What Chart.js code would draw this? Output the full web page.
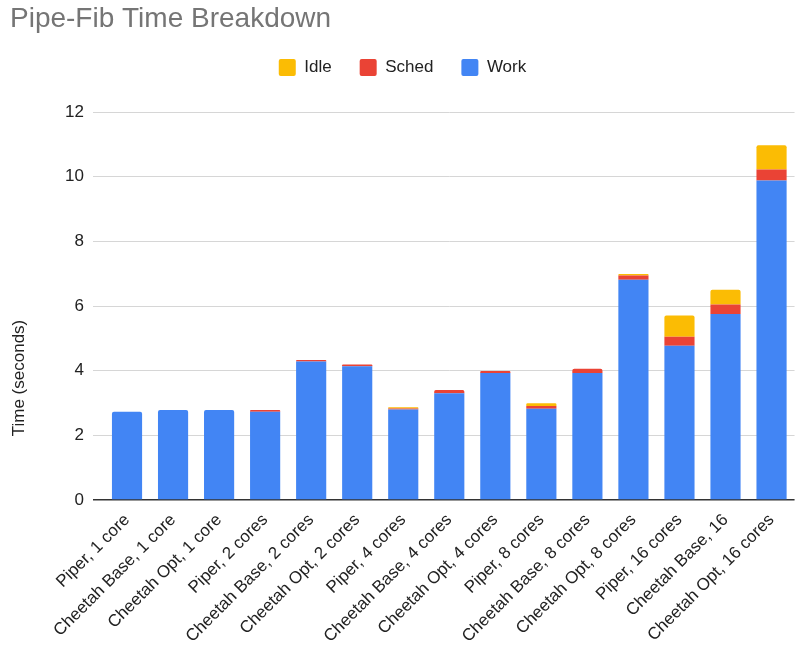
<!DOCTYPE html>
<html>
<head>
<meta charset="utf-8">
<title>Pipe-Fib Time Breakdown</title>
<script src="https://cdn.jsdelivr.net/npm/chart.js@4.4.1/dist/chart.umd.min.js"></script>
<style>
  html, body { margin:0; padding:0; background:#fff; }
  #wrap { width:796px; height:647px; position:relative; }
</style>
</head>
<body>
<div id="wrap"><canvas id="chart-pipefib"></canvas></div>
<script>
/* ── DATA (seconds) ───────────────────────────────────────── */
const categories = [
  'Piper, 1 core', 'Cheetah Base, 1 core', 'Cheetah Opt, 1 core',
  'Piper, 2 cores', 'Cheetah Base, 2 cores', 'Cheetah Opt, 2 cores',
  'Piper, 4 cores', 'Cheetah Base, 4 cores', 'Cheetah Opt, 4 cores',
  'Piper, 8 cores', 'Cheetah Base, 8 cores', 'Cheetah Opt, 8 cores',
  'Piper, 16 cores', 'Cheetah Base, 16', 'Cheetah Opt, 16 cores',
];
const work  = [2.73, 2.78, 2.78, 2.73, 4.28, 4.14, 2.80, 3.30, 3.93, 2.82, 3.93, 6.81, 4.77, 5.75, 9.88];
const sched = [0,    0,    0,    0.05, 0.05, 0.05, 0.03, 0.10, 0.06, 0.09, 0.13, 0.13, 0.28, 0.30, 0.34];
const idle  = [0,    0,    0,    0,    0,    0,    0.04, 0,    0,    0.08, 0,    0.05, 0.66, 0.45, 0.75];

const yTicks = [0, 2, 4, 6, 8, 10, 12];

const FONT = "'Liberation Sans', Arial, sans-serif";

/* ── empty layout box: gap between legend and plot ────────── */
const legendGap = {
  id: 'legendGap',
  beforeInit(chart) {
    Chart.layouts.addBox(chart, {
      position: 'top', weight: 500, fullSize: true,
      options: { display: true, stack: undefined, stackWeight: 1 },
      isHorizontal: () => true,
      update(w) { this.width = w; this.height = 26; },
      draw() {},
    });
  },
};

/* ── y axis title, centred on plot + labels like the original ─ */
const yTitle = {
  id: 'yTitle',
  afterDraw(chart) {
    const ctx = chart.ctx;
    ctx.save();
    ctx.translate(19, 378);
    ctx.rotate(-Math.PI / 2);
    ctx.font = '17px ' + FONT;
    ctx.fillStyle = '#222';
    ctx.textAlign = 'center';
    ctx.textBaseline = 'middle';
    ctx.fillText('Time (seconds)', 0, 0);
    ctx.restore();
  },
};

function barSet(label, data, color) {
  return {
    label, data,
    backgroundColor: color,
    borderWidth: 0,
    borderRadius: 2,
    categoryPercentage: 1.0,
    barPercentage: 0.655,
  };
}

new Chart(document.getElementById('chart-pipefib').getContext('2d'), {
  type: 'bar',
  data: {
    labels: categories,
    datasets: [
      barSet('Work',  work,  '#4285f4'),
      barSet('Sched', sched, '#ea4335'),
      barSet('Idle',  idle,  '#fbbc04'),
    ],
  },
  options: {
    responsive: true, maintainAspectRatio: false, animation: false,
    layout: { padding: { left: 10, right: 1, top: 0, bottom: 0 } },
    plugins: {
      title: {
        display: true, align: 'start',
        text: 'Pipe-Fib Time Breakdown',
        color: '#757575',
        font: { family: FONT, size: 28, weight: 'normal', lineHeight: 1 },
        padding: { top: 5, bottom: -2 },
      },
      legend: {
        reverse: true,
        labels: {
          color: '#222',
          font: { family: FONT, size: 17 },
          boxWidth: 17, boxHeight: 17,
          useBorderRadius: true, borderRadius: 2,
          padding: 28,
        },
      },
      tooltip: { enabled: false },
    },
    scales: {
      x: {
        stacked: true,
        grid: { display: false, drawTicks: false },
        border: { display: false },
        ticks: {
          color: '#222', font: { family: FONT, size: 17 },
          minRotation: 45, maxRotation: 45, autoSkip: false, padding: 10,
        },
        afterFit: s => { s.height = 147; },
      },
      y: {
        stacked: true,
        min: 0, max: 12,
        afterBuildTicks: s => { s.ticks = yTicks.map(v => ({ value: v })); },
        grid: {
          color:     c => c.tick && c.tick.value === 0 ? '#333' : '#d6d6d6',
          tickColor: c => c.tick && c.tick.value === 0 ? '#333' : '#d6d6d6',
          lineWidth: c => c.tick && c.tick.value === 0 ? 1.5 : 1,
          tickLength: 11,
        },
        border: { display: false },
        ticks: { color: '#222', font: { family: FONT, size: 17 }, padding: 9 },
        afterFit: s => { s.width = 94; },
      },
    },
  },
  plugins: [legendGap, yTitle],
});
</script>
</body>
</html>
